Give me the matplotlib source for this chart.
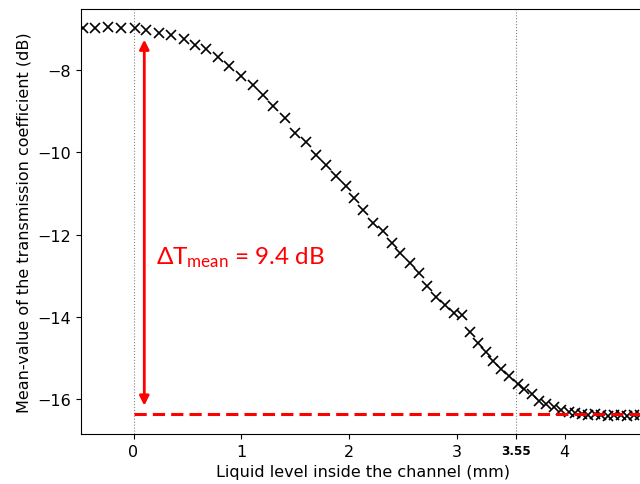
import matplotlib
matplotlib.use("Agg")
import matplotlib.pyplot as plt

# liquid level (mm) and mean transmission coefficient (dB)
level = [-0.47, -0.36, -0.24, -0.115, 0.01, 0.12, 0.237, 0.35, 0.468, 0.573,
         0.675, 0.784, 0.89, 0.999, 1.106, 1.198, 1.297, 1.405, 1.498, 1.60,
         1.693, 1.786, 1.878, 1.968, 2.05, 2.132, 2.225, 2.317, 2.395, 2.472,
         2.565, 2.648, 2.725, 2.81, 2.892, 2.975, 3.05, 3.122, 3.199, 3.27,
         3.338, 3.409, 3.486, 3.564, 3.622, 3.694, 3.762, 3.83, 3.90, 3.97,
         4.04, 4.10, 4.16, 4.22, 4.28, 4.34, 4.40, 4.46, 4.52, 4.58, 4.64, 4.70]
t_mean = [-6.98, -6.98, -6.96, -6.98, -6.98, -7.02, -7.10, -7.14, -7.25, -7.38,
          -7.49, -7.68, -7.90, -8.14, -8.36, -8.61, -8.88, -9.17, -9.52, -9.76,
          -10.06, -10.31, -10.57, -10.83, -11.10, -11.40, -11.71, -11.92, -12.21, -12.46,
          -12.68, -12.94, -13.25, -13.51, -13.72, -13.91, -13.96, -14.37, -14.63, -14.85,
          -15.07, -15.27, -15.45, -15.64, -15.76, -15.88, -16.05, -16.13, -16.20, -16.26,
          -16.31, -16.34, -16.36, -16.38, -16.37, -16.39, -16.40, -16.38, -16.39, -16.40, -16.39, -16.38]

x_marks = [0, 3.55]
t_full = -6.98   # level of the empty channel
t_end = -16.365  # level of the full channel
x_ticks = [0, 1, 2, 3, 3.55, 4]
x_ticklabels = ["0", "1", "2", "3", "3.55", "4"]
y_ticks = [-8, -10, -12, -14, -16]

plt.rcParams["mathtext.fontset"] = "custom"
plt.rcParams["mathtext.rm"] = "Lato"
plt.rcParams["mathtext.it"] = "Lato"
plt.rcParams["font.size"] = 11.5

fig = plt.figure(figsize=(6.4, 4.85), dpi=100)
ax = fig.add_axes([0.1266, 0.103, 0.882, 0.876])

ax.plot(level, t_mean, "x", color="black", markersize=6.5, markeredgewidth=1.2, zorder=3)

for xm in x_marks:
    ax.axvline(xm, color="gray", linestyle=":", linewidth=0.8, zorder=1)

ax.hlines(t_end, 0, 4.75, colors="red", linestyles=(0, (4, 2)), linewidth=2.2, zorder=4)

ax.annotate("", xy=(0.10, -7.26), xytext=(0.10, -16.16),
            arrowprops=dict(arrowstyle="<|-|>", color="red", lw=2.0,
                            mutation_scale=14, shrinkA=0, shrinkB=0))
ax.text(0.21, -12.70, r"$\Delta\mathrm{T}_{\mathrm{mean}}$ = 9.4 dB", color="red",
        fontsize=17.5, family="Lato", va="baseline", ha="left")

ax.set_xlim(-0.487, 4.75)
ax.set_ylim(-16.85, -6.52)
ax.set_xticks(x_ticks)
ax.set_xticklabels(x_ticklabels)
ax.get_xticklabels()[4].set_fontweight("bold")
ax.get_xticklabels()[4].set_fontsize(8.7)
ax.set_yticks(y_ticks)

ax.set_xlabel("Liquid level inside the channel (mm)")
ax.set_ylabel("Mean-value of the transmission coefficient (dB)")

fig.savefig("out.png", dpi=100)
